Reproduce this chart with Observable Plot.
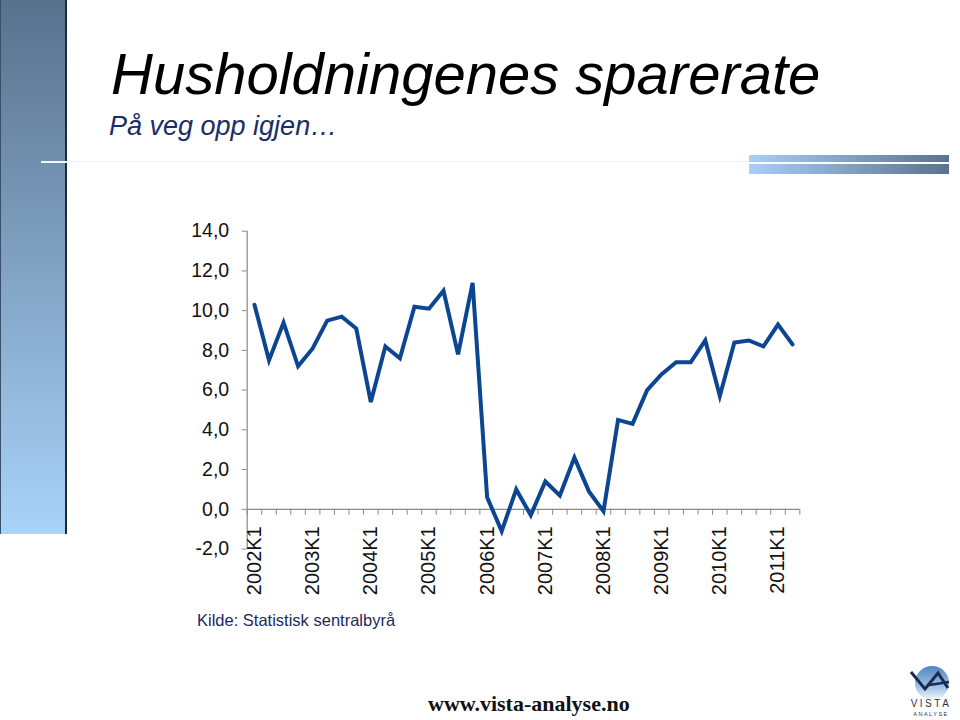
<!DOCTYPE html>
<html>
<head>
<meta charset="utf-8">
<script src="https://cdn.jsdelivr.net/npm/d3@7"></script>
<script src="https://cdn.jsdelivr.net/npm/@observablehq/plot@0.6"></script>
<style>
  html, body { margin: 0; padding: 0; background: #fff; }
  #page { position: relative; width: 960px; height: 720px; overflow: hidden; font-family: "Liberation Sans", Arial, sans-serif; }
  #chart { position: absolute; left: 0; top: 0; }
  .abs { position: absolute; }
  #leftbar { left: 0; top: 0; width: 64px; height: 534px; background: linear-gradient(to bottom, #58718d, #a9d3f8); border-left: 1px solid #3a5068; border-right: 2px solid #1c2a3c; }
  #leftline { left: 41px; top: 161px; width: 26px; height: 2px; background: #f4f6f8; }
  #faintline { left: 67px; top: 161px; width: 682px; height: 1px; background: #f1f1f1; }
  #bar1 { left: 749px; top: 155px; width: 200px; height: 7px; background: linear-gradient(to right, #a8cff5, #5a7390); }
  #bar2 { left: 749px; top: 164px; width: 200px; height: 10px; background: linear-gradient(to right, #a8cff5, #5a7390); }
  #title { left: 111px; top: 39px; font-style: italic; font-size: 58px; line-height: 70px; color: #000; white-space: nowrap; }
  #subtitle { left: 109px; top: 110px; font-style: italic; font-size: 27px; line-height: 32px; color: #1b2d66; white-space: nowrap; }
  #source { left: 197px; top: 610px; font-size: 16.5px; line-height: 20px; color: #1b2a5c; white-space: nowrap; }
  #web { left: 428px; top: 691px; font-family: "Liberation Serif", "Times New Roman", serif; font-weight: bold; font-size: 22px; line-height: 26px; color: #111; white-space: nowrap; }
  #logo { left: 900px; top: 655px; }
</style>
</head>
<body>
<div id="page">
  <div id="chart"></div>
  <div class="abs" id="leftbar"></div>
  <div class="abs" id="leftline"></div>
  <div class="abs" id="faintline"></div>
  <div class="abs" id="bar1"></div>
  <div class="abs" id="bar2"></div>
  <div class="abs" id="title">Husholdningenes sparerate</div>
  <div class="abs" id="subtitle">På veg opp igjen…</div>
  <div class="abs" id="source">Kilde: Statistisk sentralbyrå</div>
  <div class="abs" id="web">www.vista-analyse.no</div>
  <svg class="abs" id="logo" width="60" height="65" viewBox="0 0 60 65">
    <defs>
      <linearGradient id="lg" x1="0" y1="0" x2="0" y2="1">
        <stop offset="0" stop-color="#4f86c2"/>
        <stop offset="0.6" stop-color="#9cc0e4"/>
        <stop offset="1" stop-color="#f4f8fc"/>
      </linearGradient>
    </defs>
    <circle cx="32" cy="28" r="17" fill="url(#lg)"/>
    <polyline points="11,17 25,34 38,18 48,33" fill="none" stroke="#1c2b4e" stroke-width="3" stroke-linejoin="miter"/>
    <line x1="29" y1="30" x2="49" y2="27" stroke="#1c2b4e" stroke-width="2.5"/>
    <text x="31" y="52" text-anchor="middle" font-family="Liberation Sans, Arial, sans-serif" font-size="10" letter-spacing="2.5" fill="#2f3540">VISTA</text>
    <text x="31" y="61" text-anchor="middle" font-family="Liberation Sans, Arial, sans-serif" font-size="5.5" letter-spacing="1.5" fill="#2f3540">ANALYSE</text>
  </svg>
</div>
<script>
// ---- Data ----
const quarters = [
  "2002K1","2002K2","2002K3","2002K4",
  "2003K1","2003K2","2003K3","2003K4",
  "2004K1","2004K2","2004K3","2004K4",
  "2005K1","2005K2","2005K3","2005K4",
  "2006K1","2006K2","2006K3","2006K4",
  "2007K1","2007K2","2007K3","2007K4",
  "2008K1","2008K2","2008K3","2008K4",
  "2009K1","2009K2","2009K3","2009K4",
  "2010K1","2010K2","2010K3","2010K4",
  "2011K1","2011K2"
];
const sparerate = [
  10.3, 7.5, 9.4, 7.2,
  8.1, 9.5, 9.7, 9.1,
  5.4, 8.2, 7.6, 10.2,
  10.1, 11.0, 7.8, 11.4,
  0.6, -1.1, 1.0, -0.3,
  1.4, 0.7, 2.6, 0.9,
  -0.1, 4.5, 4.3, 6.0,
  6.8, 7.4, 7.4, 8.5,
  5.7, 8.4, 8.5, 8.2,
  9.3, 8.3
];
const xTickLabels = ["2002K1","2003K1","2004K1","2005K1","2006K1","2007K1","2008K1","2009K1","2010K1","2011K1"];
const yTicks = [-2, 0, 2, 4, 6, 8, 10, 12, 14];

// ---- Table built from the arrays ----
const table = quarters.map((q, i) => ({q, i, v: sparerate[i]}));
const labelRows = xTickLabels.map(l => ({label: l, i: quarters.indexOf(l)}));
const bounds = d3.range(quarters.length + 1).map(k => k - 0.5);

const fmt = d => d.toFixed(1).replace(".", ",");
const axisGray = "#8a8a8a";

const chart = Plot.plot({
  width: 960,
  height: 720,
  marginLeft: 246.7,
  marginRight: 160.7,
  marginTop: 230.7,
  marginBottom: 171.5,
  style: {background: "transparent", fontFamily: "Liberation Sans, Arial, sans-serif", fontSize: "19px", color: "#111"},
  x: {type: "linear", domain: [-0.5, quarters.length - 0.5], axis: null},
  y: {domain: [-2, 14], axis: null},
  marks: [
    Plot.ruleX([-0.5], {y1: -2, y2: 14, stroke: axisGray, strokeWidth: 1.2}),
    Plot.axisY({ticks: yTicks, tickFormat: fmt, tickSize: 5, tickPadding: 13, stroke: axisGray, fill: "#111", fontSize: 19.5, label: null}),
    Plot.ruleY([0], {stroke: axisGray, strokeWidth: 1.2}),
    Plot.ruleX(bounds, {x: d => d, y1: 0, y2: -0.3, stroke: axisGray}),
    Plot.text(labelRows, {x: "i", y: () => 0, text: "label", rotate: -90, textAnchor: "end", dy: 17, fontSize: 20, fill: "#111"}),
    Plot.line(table, {x: "i", y: "v", stroke: "#0c4591", strokeWidth: 4, strokeLinejoin: "miter", strokeMiterlimit: 4})
  ]
});
document.getElementById("chart").appendChild(chart);
</script>
</body>
</html>
